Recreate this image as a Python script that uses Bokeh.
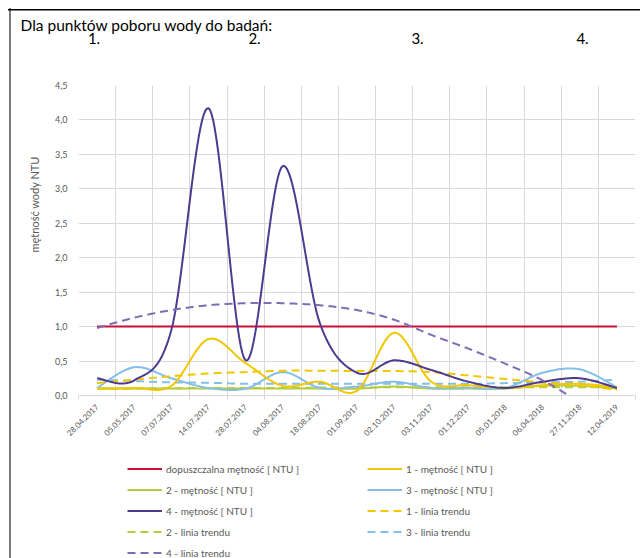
import math
import numpy as np
from bokeh.plotting import figure
from bokeh.layouts import column
from bokeh.models import (Range1d, FixedTicker, CustomJSTickFormatter, Legend, LegendItem,
                          Title, LinearAxis)
from bokeh.embed import file_html
from bokeh.resources import INLINE

# ---------------- data ----------------
dates = ["28.04.2017", "05.05.2017", "07.07.2017", "14.07.2017", "28.07.2017",
         "04.08.2017", "18.08.2017", "01.09.2017", "02.10.2017", "03.11.2017",
         "01.12.2017", "05.01.2018", "06.04.2018", "27.11.2018", "12.04.2019"]

limit = [1.0, 1.0, 1.0, 1.0, 1.0, 1.0, 1.0, 1.0, 1.0, 1.0, 1.0, 1.0, 1.0, 1.0, 1.0]
s1 = [0.10, 0.11, 0.14, 0.82, 0.47, 0.14, 0.20, 0.07, 0.91, 0.20, 0.15, 0.11, 0.15, 0.17, 0.12]
s2 = [0.10, 0.10, 0.10, 0.10, 0.10, 0.10, 0.10, 0.10, 0.13, 0.10, 0.10, 0.10, 0.14, 0.14, 0.10]
s3 = [0.11, 0.41, 0.25, 0.11, 0.10, 0.34, 0.11, 0.13, 0.20, 0.11, 0.11, 0.11, 0.33, 0.38, 0.12]
s4 = [0.25, 0.22, 0.95, 4.17, 0.51, 3.33, 1.05, 0.33, 0.51, 0.37, 0.20, 0.11, 0.20, 0.25, 0.11]

t1 = [0.18, 0.23, 0.28, 0.32, 0.34, 0.36, 0.36, 0.355, 0.355, 0.34, 0.29, 0.24, 0.19, 0.15, 0.08]
t2 = [0.10, 0.10, 0.105, 0.11, 0.11, 0.11, 0.115, 0.115, 0.12, 0.12, 0.12, 0.12, 0.12, 0.12, 0.12]
t3 = [0.23, 0.21, 0.19, 0.185, 0.17, 0.17, 0.17, 0.17, 0.17, 0.17, 0.17, 0.18, 0.19, 0.20, 0.23]
t4 = [0.98, 1.13, 1.24, 1.31, 1.34, 1.34, 1.31, 1.24, 1.10, 0.88, 0.68, 0.46, 0.22, -0.10, -0.45]

y_ticks = [0.0, 0.5, 1.0, 1.5, 2.0, 2.5, 3.0, 3.5, 4.0, 4.5]

title_text = "Dla punktów poboru wody do badań:"
point_labels = ["1.", "2.", "3.", "4."]
y_label = "mętność wody NTU"

# ---------------- helpers ----------------
def smooth(ys, n=24):
    """Excel-like smoothed line (Catmull-Rom as cubic Bezier) through the points."""
    xs = np.arange(len(ys), dtype=float)
    P = np.column_stack([xs, np.asarray(ys, dtype=float)])
    P = np.vstack([P[0], P, P[-1]])
    out_x, out_y = [], []
    t = np.linspace(0, 1, n)
    for i in range(len(ys) - 1):
        p0, p1, p2, p3 = P[i], P[i + 1], P[i + 2], P[i + 3]
        c1 = p1 + (p2 - p0) / 6.0
        c2 = p2 - (p3 - p1) / 6.0
        tt = t if i == 0 else t[1:]
        b = ((1 - tt) ** 3)[:, None] * p1 + (3 * (1 - tt) ** 2 * tt)[:, None] * c1 \
            + (3 * (1 - tt) * tt ** 2)[:, None] * c2 + (tt ** 3)[:, None] * p2
        out_x.extend(b[:, 0]); out_y.extend(b[:, 1])
    return out_x, out_y

FONT = "Lato"
GRAY = "#595959"
GRID = "#d9d9d9"
RED, GOLD, LIME, BLUE, PURP, PURP_T = "#C8103A", "#F2C700", "#B5CD3C", "#85BFE8", "#4E3A8E", "#7F6DB3"
DASH = "8 5"

W = 640
MAIN_H, LEG_H = 448, 110
N = len(dates)

# ---------------- main chart ----------------
ML, MR, MT, MB = 78, 5, 85, 53
band = (W - ML - MR) / N

def px_to_x(px):
    return (px - ML) / band - 0.5

p = figure(width=W, height=MAIN_H, output_backend="svg", toolbar_location=None,
           x_range=Range1d(-0.5, N - 0.5), y_range=Range1d(0, 4.5),
           min_border_left=ML, min_border_right=MR, min_border_top=MT, min_border_bottom=MB)
p.outline_line_color = None
p.background_fill_color = "white"
p.border_fill_color = None

p.title = Title(text=title_text, align="left", offset=-58, text_font=FONT,
                text_font_size="15.5px", text_font_style="normal", text_color="black",
                standoff=-8)

# sampling point numbers "1." .. "4." shown as a label axis above the frame
pt_axis = LinearAxis(ticker=FixedTicker(ticks=[px_to_x(v) for v in [93.5, 254, 417, 582]]),
                     formatter=CustomJSTickFormatter(args=dict(labels=point_labels),
                                                     code="return labels[index]"))
pt_axis.axis_line_color = None
pt_axis.major_tick_line_color = None
pt_axis.minor_tick_line_color = None
pt_axis.major_tick_out = 0
pt_axis.major_label_standoff = 42
pt_axis.major_label_text_font = FONT
pt_axis.major_label_text_font_size = "15px"
pt_axis.major_label_text_color = "black"
p.add_layout(pt_axis, "above")

xa = p.below[0]
xa.ticker = FixedTicker(ticks=list(range(N)), minor_ticks=[i - 0.5 for i in range(N + 1)])
xa.formatter = CustomJSTickFormatter(args=dict(labels=dates),
                                     code="return labels[Math.round(tick)] || ''")
xa.major_label_orientation = math.pi / 4
xa.major_tick_line_color = None
xa.minor_tick_line_color = GRID
xa.minor_tick_out = 4
xa.minor_tick_in = 0
xa.axis_line_color = GRID
xa.major_label_text_font = FONT
xa.major_label_text_font_size = "8px"
xa.major_label_text_color = GRAY
xa.major_label_standoff = 4

ya = p.left[0]
ya.ticker = FixedTicker(ticks=y_ticks)
ya.formatter = CustomJSTickFormatter(code="return tick.toFixed(1).replace('.', ',')")
ya.axis_line_color = None
ya.major_tick_line_color = None
ya.minor_tick_line_color = None
ya.major_tick_out = 0
ya.major_label_standoff = 11
ya.major_label_text_font = FONT
ya.major_label_text_font_size = "9px"
ya.major_label_text_color = GRAY

p.add_layout(Title(text=y_label, align="left", offset=143, text_font=FONT,
                   text_font_size="11px", text_font_style="normal", text_color=GRAY,
                   standoff=24), "left")

p.xgrid.ticker = FixedTicker(ticks=[i - 0.5 for i in range(N + 1)])
p.xgrid.grid_line_color = GRID
p.ygrid.ticker = FixedTicker(ticks=y_ticks)
p.ygrid.grid_line_color = GRID

def line(fig, ys, color, dash="solid"):
    x, y = smooth(ys)
    return fig.line(x, y, line_color=color, line_width=2, line_dash=dash)

line(p, limit, RED)
line(p, t2, LIME, DASH)
line(p, s2, LIME)
line(p, t3, BLUE, DASH)
line(p, s3, BLUE)
line(p, t1, GOLD, DASH)
line(p, s1, GOLD)
line(p, s4, PURP)
line(p, t4, PURP_T, DASH)

# ---------------- legend strip (its frame is aligned with the chart frame) ----------------
leg = figure(width=W, height=LEG_H, output_backend="svg", toolbar_location=None,
             x_range=Range1d(0, 1), y_range=Range1d(0, 1),
             x_axis_location=None, y_axis_location=None, min_border=0)
leg.outline_line_color = None
leg.background_fill_color = None
leg.border_fill_color = None
leg.xgrid.visible = False
leg.ygrid.visible = False

def key(color, dash="solid"):
    # legend key renderer, kept outside the visible range of the strip
    return leg.line(x=[-2, -1], y=[-2, -2], line_color=color, line_width=2, line_dash=dash)

col1 = [("dopuszczalna mętność [ NTU ]", key(RED)), ("2 - mętność [ NTU ]", key(LIME)),
        ("4 - mętność [ NTU ]", key(PURP)), ("2 - linia trendu", key(LIME, DASH)),
        ("4 - linia trendu", key(PURP_T, DASH))]
col2 = [("1 - mętność [ NTU ]", key(GOLD)), ("3 - mętność [ NTU ]", key(BLUE)),
        ("1 - linia trendu", key(GOLD, DASH)), ("3 - linia trendu", key(BLUE, DASH))]

LEG_TOP = 458 - MAIN_H   # legend top inside the strip
ROW = 21
for items, lx in [(col1, 127), (col2, 367)]:
    lg = Legend(items=[LegendItem(label=l, renderers=[r]) for l, r in items],
                location=(lx - ML, LEG_H - LEG_TOP - ROW * len(items)),
                orientation="vertical", padding=0, margin=0, spacing=0,
                glyph_width=35, glyph_height=ROW, label_height=ROW, label_standoff=4,
                label_text_font=FONT, label_text_font_size="10px", label_text_color=GRAY,
                border_line_color=None, background_fill_alpha=0)
    leg.add_layout(lg)

layout = column(p, leg, spacing=0)
layout.stylesheets = [":host { background:"
                      " linear-gradient(#000,#000) 8px 8.5px / 640px 1.5px no-repeat,"
                      " linear-gradient(#7a7a7a,#7a7a7a) 8.5px 8px / 2px 560px no-repeat,"
                      " white; }"]

open("out.html", "w").write(file_html(layout, INLINE))
